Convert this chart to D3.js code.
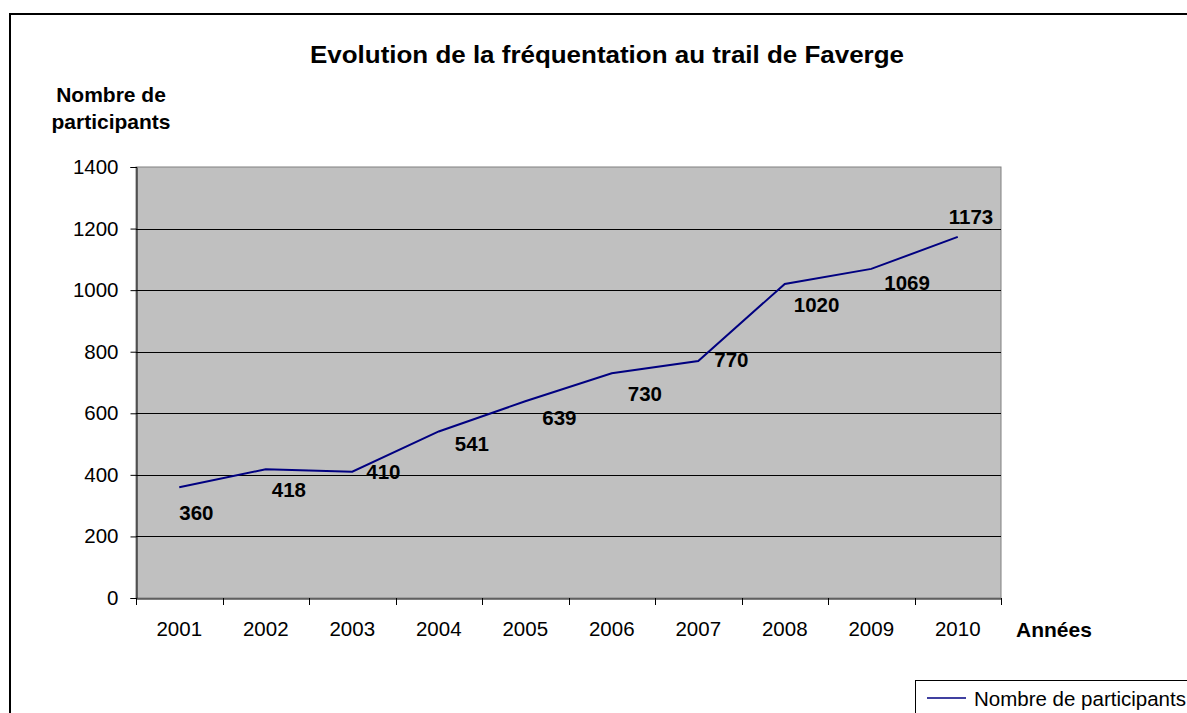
<!DOCTYPE html>
<html><head><meta charset="utf-8">
<script src="https://cdn.jsdelivr.net/npm/d3@7"></script>
<style>body{margin:0;background:#fff}svg{display:block}text{font-family:"Liberation Sans",Arial,sans-serif}</style>
</head><body><svg id="c" width="1187" height="713"></svg>
<script>
const categories = ["2001","2002","2003","2004","2005","2006","2007","2008","2009","2010"];
const participants = [360,418,410,541,639,730,770,1020,1069,1173];
const yTicks = [0,200,400,600,800,1000,1200,1400];
const seriesName = "Nombre de participants";
const title = "Evolution de la fréquentation au trail de Faverge";
const yTitle = ["Nombre de","participants"];
const xTitle = "Années";
// label offsets (left edge dx, centre dy) relative to each point, as placed in the original
const labelOffsets = [[0,25],[6,20],[14,0],[16,12],[17,16],[16,20],[16,-1],[9,21],[13,14],[-9,-20]];

const svg = d3.select("#c");
const L=136,R=1001,T=167,B=598;
const FF="Liberation Sans, Arial, sans-serif";
svg.append("rect").attr("x",10).attr("y",14).attr("width",1200).attr("height",720)
  .attr("fill","#fff").attr("stroke","#000").attr("stroke-width",2);

const x = d3.scaleBand().domain(categories).range([L,R]);
const y = d3.scaleLinear().domain([0,1400]).range([B,T]);

svg.append("rect").attr("x",L).attr("y",T).attr("width",R-L).attr("height",B-T)
  .attr("fill","#C0C0C0").attr("stroke","#808080").attr("stroke-width",1);

svg.append("g").selectAll("line").data(yTicks.filter(d=>d>0&&d<1400)).join("line")
  .attr("x1",L).attr("x2",R).attr("y1",d=>Math.round(y(d))+0.5).attr("y2",d=>Math.round(y(d))+0.5)
  .attr("stroke","#000").attr("stroke-width",1);

const ya = svg.append("g").attr("transform",`translate(${L+0.5},0)`)
  .call(d3.axisLeft(y).tickValues(yTicks).tickSize(6).tickPadding(12).tickFormat(d3.format("d")));
ya.select(".domain").attr("stroke","#000");
ya.selectAll("text").attr("font-size",20.5).attr("fill","#000").style("font-family",FF);

const xa = svg.append("g").attr("transform",`translate(0,${B+0.5})`)
  .call(d3.axisBottom(x).tickSize(0).tickPadding(23));
xa.select(".domain").attr("stroke","#000");
xa.selectAll("text").attr("font-size",20.5).attr("fill","#000").style("font-family",FF);
// category boundary tick marks
const bounds = categories.map(c=>x(c)).concat([R]);
svg.append("g").selectAll("line").data(bounds).join("line")
  .attr("x1",d=>Math.round(d)+0.5).attr("x2",d=>Math.round(d)+0.5).attr("y1",B).attr("y2",B+7)
  .attr("stroke","#000");

const pts = categories.map((c,i)=>({c, v:participants[i], px:x(c)+x.bandwidth()/2, py:y(participants[i]), o:labelOffsets[i]}));
svg.append("path").datum(pts)
  .attr("d",d3.line().x(d=>d.px).y(d=>d.py))
  .attr("fill","none").attr("stroke","#000080").attr("stroke-width",2);

svg.append("g").selectAll("text").data(pts).join("text")
  .attr("x",d=>d.px+d.o[0]).attr("y",d=>d.py+d.o[1])
  .attr("dominant-baseline","central").attr("font-size",20.5).attr("font-weight","bold")
  .text(d=>d.v);

svg.append("text").attr("x",310).attr("y",63)
  .attr("font-size",24).attr("font-weight","bold")
  .attr("textLength",594).attr("lengthAdjust","spacingAndGlyphs").text(title);
svg.append("text").attr("x",111).attr("y",102).attr("text-anchor","middle")
  .attr("font-size",21).attr("font-weight","bold")
  .selectAll("tspan").data(yTitle).join("tspan").attr("x",111).attr("dy",(d,i)=>i?27:0).text(d=>d);
svg.append("text").attr("x",1016).attr("y",637).attr("font-size",21).attr("font-weight","bold").text(xTitle);

const lg = svg.append("g");
lg.append("rect").attr("x",915.5).attr("y",680.5).attr("width",300).attr("height",60)
  .attr("fill","#fff").attr("stroke","#000");
lg.append("line").attr("x1",927).attr("x2",966).attr("y1",698).attr("y2",698)
  .attr("stroke","#000080").attr("stroke-width",1.5);
lg.append("text").attr("x",974).attr("y",698).attr("dominant-baseline","central")
  .attr("font-size",20.5).text(seriesName);
</script></body></html>
